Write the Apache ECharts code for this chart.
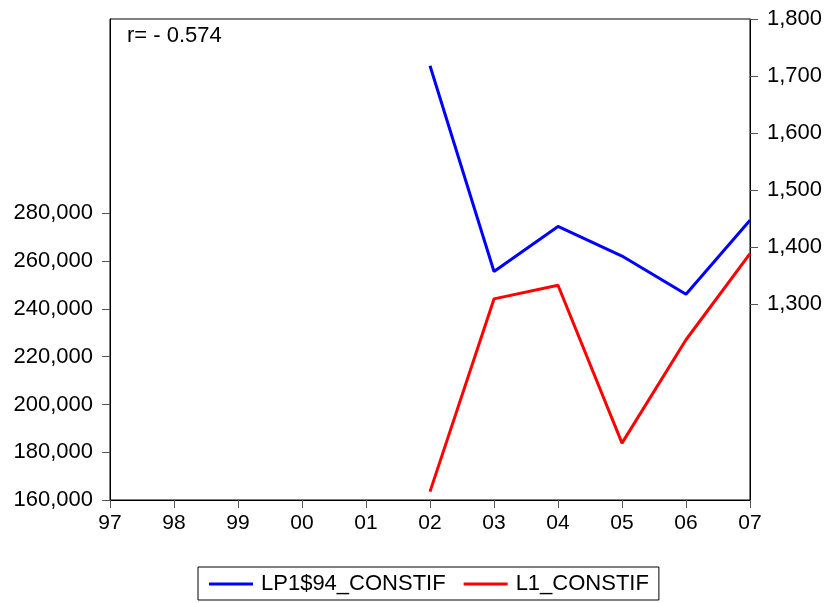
<!DOCTYPE html>
<html>
<head>
<meta charset="utf-8">
<script src="https://cdn.jsdelivr.net/npm/echarts@6/dist/echarts.min.js"></script>
<style>html,body{margin:0;padding:0;background:#fff}#c{width:828px;height:603px}</style>
</head>
<body>
<div id="c"></div>
<script>
const categories = ['97','98','99','00','01','02','03','04','05','06','07'];
const lp1Values = [null,null,null,null,null,1718,1357,1436,1384,1317,1447];
const l1Values = [null,null,null,null,null,163500,244200,249900,183800,227100,263200];
const leftTickLabels = [160000,180000,200000,220000,240000,260000,280000];
const rightTickLabels = [1300,1400,1500,1600,1700,1800];
const seriesNames = ['LP1$94_CONSTIF','L1_CONSTIF'];
const annotation = 'r= - 0.574';

const font = 'Liberation Sans, Arial, sans-serif';
const fmt = v => Number(v).toLocaleString('en-US');
const chart = echarts.init(document.getElementById('c'), null, {renderer:'canvas'});
chart.setOption({
  animation:false,
  backgroundColor:'#fff',
  grid:{left:110,right:78,top:19,bottom:103,show:true,borderColor:'#000',borderWidth:1,backgroundColor:'transparent'},
  title:{text:annotation,left:122,top:20,padding:[5,5,5,5],textStyle:{fontFamily:font,fontSize:22,fontWeight:'normal',color:'#000'}},
  legend:{
    data:seriesNames,left:198,top:567,width:460,borderColor:'#000',borderWidth:1,
    padding:[6,10,5,11],itemGap:18,itemWidth:44,itemHeight:3,icon:'rect',
    textStyle:{fontFamily:font,fontSize:22,color:'#000',padding:[0,0,0,3]}
  },
  xAxis:{
    type:'category',data:categories,boundaryGap:false,
    axisLine:{lineStyle:{color:'#000',width:1}},
    axisTick:{show:true,alignWithLabel:true,length:8,inside:false,lineStyle:{color:'#555'}},
    axisLabel:{fontFamily:font,fontSize:21,color:'#000',margin:13,interval:0},
    splitLine:{show:false}
  },
  yAxis:[
    {
      type:'value',position:'left',min:160000,max:361400,interval:20000,
      axisLine:{show:true,lineStyle:{color:'#000'}},
      axisTick:{show:true,length:8,lineStyle:{color:'#555'},customValues:leftTickLabels},
      axisLabel:{fontFamily:font,fontSize:22,color:'#000',margin:17,customValues:leftTickLabels,formatter:fmt},
      splitLine:{show:false}
    },
    {
      type:'value',position:'right',min:956,max:1800,
      axisLine:{show:true,lineStyle:{color:'#000'}},
      axisTick:{show:true,length:8,lineStyle:{color:'#555'},customValues:rightTickLabels},
      axisLabel:{fontFamily:font,fontSize:22,color:'#000',margin:17,customValues:rightTickLabels,formatter:fmt},
      splitLine:{show:false}
    }
  ],
  series:[
    {name:seriesNames[0],type:'line',yAxisIndex:1,data:lp1Values,showSymbol:false,symbol:'none',
     lineStyle:{color:'#0000ff',width:3},itemStyle:{color:'#0000ff'},connectNulls:false},
    {name:seriesNames[1],type:'line',yAxisIndex:0,data:l1Values,showSymbol:false,symbol:'none',
     lineStyle:{color:'#ff0000',width:3},itemStyle:{color:'#ff0000'},connectNulls:false}
  ]
});
</script>
</body>
</html>
